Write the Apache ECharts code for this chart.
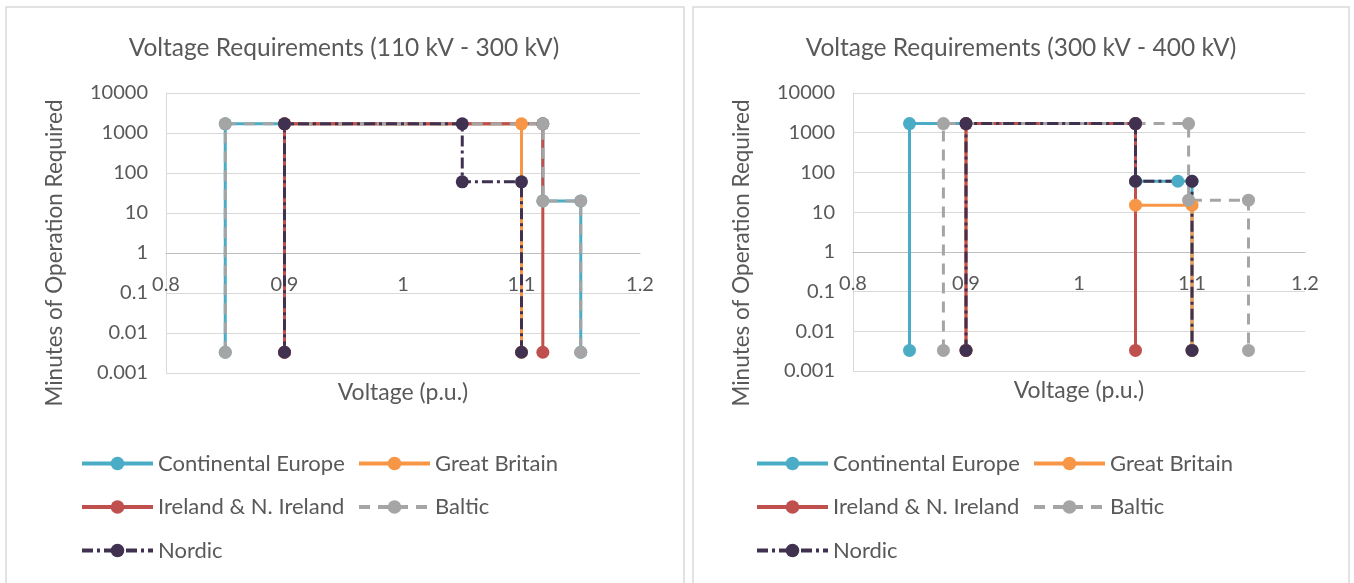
<!DOCTYPE html>
<html>
<head>
<meta charset="utf-8">
<script src="https://cdn.jsdelivr.net/npm/echarts@6/dist/echarts.min.js"></script>
<style>
html,body{margin:0;padding:0;background:#fff;}
#c{width:1354px;height:583px;}
</style>
</head>
<body>
<div id="c"></div>
<script>
// ---- data ----
const seriesNames = ['Continental Europe', 'Great Britain', 'Ireland & N. Ireland', 'Baltic', 'Nordic'];
const titles = ['Voltage Requirements (110 kV - 300 kV)', 'Voltage Requirements (300 kV - 400 kV)'];
const yTickLabels = ['0.001', '0.01', '0.1', '1', '10', '100', '1000', '10000'];
const xTickLabels = ['0.8', '0.9', '1', '1.1', '1.2'];

// Chart 1: 110 kV - 300 kV
const a_ce_x = [0.85, 0.85, 1.118, 1.118, 1.15, 1.15];
const a_ce_y = [0.0033, 1700, 1700, 20, 20, 0.0033];
const a_gb_x = [0.9, 0.9, 1.1, 1.1];
const a_gb_y = [0.0033, 1700, 1700, 0.0033];
const a_ie_x = [0.9, 0.9, 1.118, 1.118];
const a_ie_y = [0.0033, 1700, 1700, 0.0033];
const a_ba_x = [0.85, 0.85, 1.118, 1.118, 1.15, 1.15];
const a_ba_y = [0.0033, 1700, 1700, 20, 20, 0.0033];
const a_no_x = [0.9, 0.9, 1.05, 1.05, 1.1, 1.1];
const a_no_y = [0.0033, 1700, 1700, 60, 60, 0.0033];

// Chart 2: 300 kV - 400 kV
const b_ce_x = [0.85, 0.85, 1.05, 1.05, 1.0875, 1.1, 1.1];
const b_ce_y = [0.0033, 1700, 1700, 60, 60, 60, 0.0033];
const b_gb_x = [0.9, 0.9, 1.05, 1.05, 1.1, 1.1];
const b_gb_y = [0.0033, 1700, 1700, 15, 15, 0.0033];
const b_ie_x = [0.9, 0.9, 1.05, 1.05];
const b_ie_y = [0.0033, 1700, 1700, 0.0033];
const b_ba_x = [0.88, 0.88, 1.097, 1.097, 1.15, 1.15];
const b_ba_y = [0.0033, 1700, 1700, 20, 20, 0.0033];
const b_no_x = [0.9, 0.9, 1.05, 1.05, 1.1, 1.1];
const b_no_y = [0.0033, 1700, 1700, 60, 60, 0.0033];

// ---- styling ----
const FONT = 'Lato';
const TXT = '#595959';
const colors = ['#4BACC6', '#F79646', '#C0504D', '#A5A5A5', '#403151'];
const lineTypes = ['solid', 'solid', 'solid', [11, 8], [11, 4, 3, 4]];

function zip(xs, ys) { return xs.map((x, i) => [x, ys[i]]); }
const chartData = [
  [zip(a_ce_x, a_ce_y), zip(a_gb_x, a_gb_y), zip(a_ie_x, a_ie_y), zip(a_ba_x, a_ba_y), zip(a_no_x, a_no_y)],
  [zip(b_ce_x, b_ce_y), zip(b_gb_x, b_gb_y), zip(b_ie_x, b_ie_y), zip(b_ba_x, b_ba_y), zip(b_no_x, b_no_y)]
];

const grids = [
  { left: 166, top: 93, width: 474, height: 280 },
  { left: 853, top: 93, width: 452, height: 278 }
];

const series = [];
chartData.forEach((sets, gi) => {
  sets.forEach((d, si) => {
    series.push({
      name: seriesNames[si],
      type: 'line',
      xAxisIndex: gi, yAxisIndex: gi,
      data: d,
      symbol: 'circle', symbolSize: 13, showSymbol: true,
      itemStyle: { color: colors[si] },
      lineStyle: { color: colors[si], width: 3, type: lineTypes[si] },
      emphasis: { disabled: true },
      animation: false
    });
  });
});

const xAxes = grids.map((g, gi) => ({
  gridIndex: gi, type: 'value', min: 0.8, max: 1.2, interval: 0.1,
  position: 'bottom', offset: -g.height * 3 / 7,
  axisLine: { show: true, lineStyle: { color: '#BFBFBF', width: 1 } },
  axisTick: { show: false },
  splitLine: { show: false },
  axisLabel: { color: TXT, fontFamily: FONT, fontSize: 20, margin: 22,
    formatter: v => xTickLabels[Math.round((v - 0.8) / 0.1)] },
  name: 'Voltage (p.u.)', nameLocation: 'middle', nameGap: g.height * 3 / 7 + 8,
  nameTextStyle: { color: TXT, fontFamily: FONT, fontSize: 23 }
}));

const yAxes = grids.map((g, gi) => ({
  gridIndex: gi, type: 'log', logBase: 10, min: 0.001, max: 10000, interval: 1,
  axisLine: { show: true, lineStyle: { color: '#D9D9D9', width: 1 } },
  axisTick: { show: false },
  splitLine: { show: true, lineStyle: { color: '#D9D9D9', width: 1 } },
  axisLabel: { color: TXT, fontFamily: FONT, fontSize: 20, margin: 18,
    formatter: v => yTickLabels[Math.round(Math.log10(v)) + 3] }
}));

const legendBase = {
  orient: 'vertical', top: 446, itemWidth: 71, itemHeight: 17, itemGap: 18.5,
  lineStyle: { width: 4 },
  textStyle: { color: TXT, fontFamily: FONT, fontSize: 22, lineHeight: 25 },
  selectedMode: false
};
const legends = [
  Object.assign({}, legendBase, { left: 75, data: [seriesNames[0], seriesNames[2], seriesNames[4]] }),
  Object.assign({}, legendBase, { left: 352, data: [seriesNames[1], seriesNames[3]] }),
  Object.assign({}, legendBase, { left: 750, data: [seriesNames[0], seriesNames[2], seriesNames[4]] }),
  Object.assign({}, legendBase, { left: 1027, data: [seriesNames[1], seriesNames[3]] })
];

const chart = echarts.init(document.getElementById('c'), null, { renderer: 'canvas' });
chart.setOption({
  backgroundColor: '#fff',
  animation: false,
  title: [
    { text: titles[0], left: 339, top: 31, textAlign: 'center',
      textStyle: { color: TXT, fontFamily: FONT, fontSize: 24.5, fontWeight: 'normal' } },
    { text: titles[1], left: 1016, top: 31, textAlign: 'center',
      textStyle: { color: TXT, fontFamily: FONT, fontSize: 24.5, fontWeight: 'normal' } }
  ],
  grid: grids,
  xAxis: xAxes,
  yAxis: yAxes,
  legend: legends,
  series: series,
  graphic: [
    { type: 'rect', shape: { x: 6, y: 7, width: 678, height: 600 },
      style: { fill: 'none', stroke: '#D9D9D9', lineWidth: 1.5 }, silent: true, z: -1 },
    { type: 'rect', shape: { x: 693, y: 7, width: 656, height: 600 },
      style: { fill: 'none', stroke: '#D9D9D9', lineWidth: 1.5 }, silent: true, z: -1 },
    { type: 'text', x: 55, y: 253, rotation: Math.PI / 2,
      style: { text: 'Minutes of Operation Required', fill: TXT, font: '22.5px Lato', align: 'center', verticalAlign: 'middle' } },
    { type: 'text', x: 742, y: 253, rotation: Math.PI / 2,
      style: { text: 'Minutes of Operation Required', fill: TXT, font: '22.5px Lato', align: 'center', verticalAlign: 'middle' } }
  ]
});
</script>
</body>
</html>
